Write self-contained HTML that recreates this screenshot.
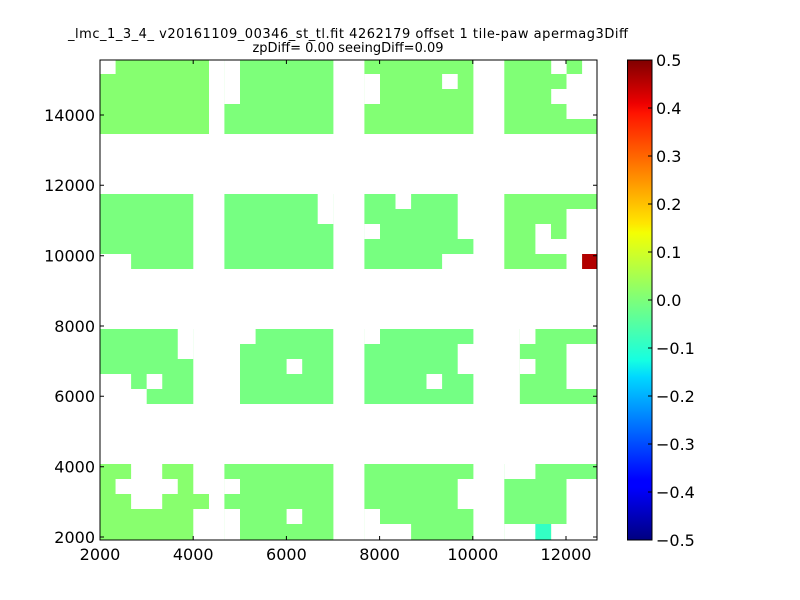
<!DOCTYPE html>
<html><head><meta charset="utf-8"><style>body{margin:0;background:#fff}svg{display:block}</style></head><body>
<svg width="800" height="600" xmlns="http://www.w3.org/2000/svg" font-family="DejaVu Sans, Liberation Sans, sans-serif">
<defs>
<linearGradient id="jet" x1="0" y1="1" x2="0" y2="0">
<stop offset="0" stop-color="#000080"/><stop offset="0.11" stop-color="#0000ff"/><stop offset="0.125" stop-color="#0000ff"/>
<stop offset="0.34" stop-color="#00d8ff"/><stop offset="0.375" stop-color="#16ffe1"/><stop offset="0.5" stop-color="#7dff7a"/>
<stop offset="0.64" stop-color="#f4ff03"/><stop offset="0.66" stop-color="#ffe600"/><stop offset="0.89" stop-color="#ff1300"/>
<stop offset="0.91" stop-color="#ed0000"/><stop offset="1" stop-color="#800000"/>
</linearGradient>
</defs>
<g fill="#7dff7a">
<rect x="100" y="60" width="109" height="74" fill="#86ff70"/>
<rect x="224.4" y="60" width="109" height="74"/>
<rect x="364.4" y="60" width="109" height="74" fill="#82ff74"/>
<rect x="504.3" y="60" width="92.7" height="74" fill="#80ff76"/>
<rect x="100" y="194" width="93.3" height="75" fill="#7aff7e"/>
<rect x="224.4" y="194" width="109" height="75" fill="#76ff82"/>
<rect x="364.4" y="194" width="109" height="75" fill="#77ff80"/>
<rect x="504.3" y="194" width="92.7" height="75" fill="#80ff76"/>
<rect x="100" y="329" width="93.3" height="75" fill="#78ff80"/>
<rect x="240" y="329" width="93.3" height="75" fill="#76ff82"/>
<rect x="364.4" y="329" width="109" height="75" fill="#74ff84"/>
<rect x="519.85" y="329" width="77.2" height="75" fill="#7aff7c"/>
<rect x="100" y="464" width="109" height="76" fill="#88ff6e"/>
<rect x="224.4" y="464" width="109" height="76" fill="#7eff78"/>
<rect x="364.4" y="464" width="109" height="76" fill="#7cff7a"/>
<rect x="504.3" y="464" width="92.7" height="76" fill="#7aff7e"/>
</g>
<g fill="#fff">
<rect x="100" y="60" width="15.6" height="14"/>
<rect x="224.4" y="60" width="15.6" height="44"/>
<rect x="364.4" y="74" width="15.6" height="30"/>
<rect x="442.1" y="74" width="15.6" height="15"/>
<rect x="551.2" y="60" width="15.4" height="14"/>
<rect x="582.1" y="60" width="15" height="14"/>
<rect x="566.5" y="74" width="30.5" height="15"/>
<rect x="551.2" y="89" width="46" height="15"/>
<rect x="566.5" y="104" width="30.5" height="15"/>
<rect x="100" y="254" width="31.1" height="15"/>
<rect x="317.7" y="194" width="15.7" height="30"/>
<rect x="395.5" y="194" width="15.6" height="15"/>
<rect x="457.7" y="194" width="15.8" height="45"/>
<rect x="364.4" y="224" width="15.6" height="15"/>
<rect x="442.1" y="254" width="31.4" height="15"/>
<rect x="566.5" y="209" width="30.5" height="30"/>
<rect x="535.4" y="224" width="15.6" height="15"/>
<rect x="535.4" y="239" width="61.6" height="15"/>
<rect x="566.5" y="254" width="15.6" height="15"/>
<rect x="177.75" y="329" width="15.6" height="30"/>
<rect x="100" y="374" width="31.1" height="15"/>
<rect x="146.65" y="374" width="15.6" height="15"/>
<rect x="100" y="389" width="46.7" height="15"/>
<rect x="240" y="329" width="15.6" height="15"/>
<rect x="286.6" y="359" width="15.6" height="15"/>
<rect x="364.4" y="329" width="15.6" height="15"/>
<rect x="457.7" y="344" width="15.8" height="30"/>
<rect x="426.5" y="374" width="15.6" height="15"/>
<rect x="519.85" y="329" width="15.6" height="15"/>
<rect x="566.5" y="344" width="30.5" height="45"/>
<rect x="519.85" y="359" width="15.6" height="15"/>
<rect x="193.3" y="464" width="15.8" height="30"/>
<rect x="193.3" y="509" width="15.8" height="31"/>
<rect x="131.1" y="464" width="31.1" height="15"/>
<rect x="115.55" y="479" width="62.2" height="15"/>
<rect x="131.1" y="494" width="31.1" height="15"/>
<rect x="224.4" y="479" width="15.6" height="15"/>
<rect x="224.4" y="509" width="15.6" height="31"/>
<rect x="286.6" y="509" width="15.6" height="15"/>
<rect x="457.7" y="479" width="15.8" height="30"/>
<rect x="364.4" y="509" width="15.6" height="15"/>
<rect x="364.4" y="524" width="46.7" height="16"/>
<rect x="504.3" y="464" width="31.1" height="15"/>
<rect x="566.5" y="479" width="30.5" height="45"/>
<rect x="504.3" y="524" width="31.1" height="16"/>
<rect x="551.2" y="524" width="46" height="16"/>
</g>
<rect x="582.1" y="254" width="15" height="15" fill="#b20000"/>
<rect x="535.4" y="524" width="15.6" height="16" fill="#33ffc4"/>
<rect x="100" y="60" width="497" height="480" fill="none" stroke="#000" stroke-width="1"/>
<g stroke="#000" stroke-width="1">
<path d="M193.2 540v-4M286.4 540v-4M379.6 540v-4M472.8 540v-4M566 540v-4M193.2 60v4M286.4 60v4M379.6 60v4M472.8 60v4M566 60v4"/>
<path d="M100 537h4M100 466.7h4M100 396.3h4M100 326h4M100 255.7h4M100 185.3h4M100 115h4M597 537h-4M597 466.7h-4M597 396.3h-4M597 326h-4M597 255.7h-4M597 185.3h-4M597 115h-4"/>
</g>
<g font-size="16" fill="#000">
<g text-anchor="middle">
<text x="100" y="560">2000</text><text x="193.2" y="560">4000</text><text x="286.4" y="560">6000</text><text x="379.6" y="560">8000</text><text x="472.8" y="560">10000</text><text x="566" y="560">12000</text>
</g>
<g text-anchor="end">
<text x="95" y="543">2000</text><text x="95" y="472.5">4000</text><text x="95" y="402">6000</text><text x="95" y="332">8000</text><text x="95" y="261.5">10000</text><text x="95" y="191">12000</text><text x="95" y="121">14000</text>
</g>
</g>
<text x="348" y="38" font-size="13" text-anchor="middle" textLength="560">_lmc_1_3_4_ v20161109_00346_st_tl.fit 4262179 offset 1 tile-paw apermag3Diff</text>
<text x="348" y="52" font-size="13" text-anchor="middle">zpDiff= 0.00 seeingDiff=0.09</text>
<rect x="627.5" y="60" width="24.5" height="480" fill="url(#jet)" stroke="#000" stroke-width="1"/>
<g stroke="#000"><path d="M652 60h-4M652 108h-4M652 156h-4M652 204h-4M652 252h-4M652 300h-4M652 348h-4M652 396h-4M652 444h-4M652 492h-4M652 540h-4"/></g>
<g font-size="16" fill="#000">
<text x="656" y="66">0.5</text><text x="656" y="114">0.4</text><text x="656" y="162">0.3</text><text x="656" y="210">0.2</text><text x="656" y="258">0.1</text><text x="656" y="306">0.0</text>
<text x="656" y="354">−0.1</text><text x="656" y="402">−0.2</text><text x="656" y="450">−0.3</text><text x="656" y="498">−0.4</text><text x="656" y="546">−0.5</text>
</g>
</svg>
</body></html>
